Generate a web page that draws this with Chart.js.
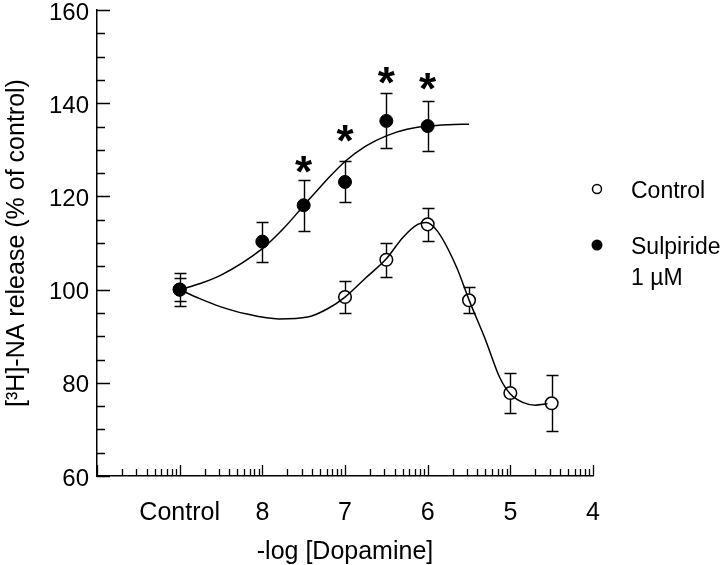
<!DOCTYPE html>
<html>
<head>
<meta charset="utf-8">
<script src="https://cdn.jsdelivr.net/npm/chart.js@4.4.1/dist/chart.umd.min.js"></script>
<style>
html, body { margin: 0; padding: 0; background: #fff; }
</style>
</head>
<body>
<canvas id="chart" width="720" height="565"></canvas>
<script>
var FONT = "'Liberation Sans', Arial, Helvetica, sans-serif";

// x is -log [Dopamine]; the control column sits at 9
var xTickValues = [9, 8, 7, 6, 5, 4];
var xTickLabels = ['Control', '8', '7', '6', '5', '4'];

var controlX = [9, 7, 6.5, 6, 5.5, 5, 4.5];
var controlY = [100, 98.4, 106.4, 114.0, 97.7, 77.8, 75.6];
var controlSem = [2.4, 3.5, 3.7, 3.6, 2.8, 4.2, 6.0];

var sulpX = [9, 8, 7.5, 7, 6.5, 6];
var sulpY = [100, 110.3, 118.1, 123.1, 136.2, 135.1];
var sulpSem = [3.5, 4.3, 5.5, 4.4, 5.9, 5.4];

// significance stars
var starX = [7.5, 7, 6.5, 6];
var starY = [127.2, 133.8, 146.3, 145.0];

// fitted curves
var fitSulpX = [9, 8.75, 8.5, 8.0, 7.75, 7.5, 7.25, 7.0, 6.75, 6.5, 6.25, 6.0, 5.75, 5.5];
var fitSulpY = [100, 101.3, 103.1, 108.8, 113.0, 118.0, 123.0, 127.5, 130.8, 133.0, 134.4, 135.1, 135.4, 135.5];

var fitCtrlX = [9, 8.75, 8.5, 8.2, 7.8, 7.45, 7.2, 7.0, 6.75, 6.5, 6.3, 6.12, 6.02, 5.88, 5.65, 5.5, 5.3, 5.13, 5.0, 4.85, 4.7, 4.55];
var fitCtrlY = [100, 98.0, 96.3, 94.8, 93.7, 94.1, 96.0, 98.4, 102.5, 106.6, 111.2, 114.0, 114.4, 112.5, 104.8, 97.8, 89.2, 81.2, 77.6, 75.8, 75.2, 75.5];

function pts(xa, ya) {
    return xa.map(function (x, i) { return { x: x, y: ya[i] }; });
}

// ticks drawn inward, log minor ticks on x
var axisTicks = {
    id: 'axisTicks',
    afterDraw: function (chart) {
        var ctx = chart.ctx, xs = chart.scales.x, ys = chart.scales.y, a = chart.chartArea;
        ctx.save();
        ctx.strokeStyle = '#000';
        ctx.lineWidth = 1.3;
        ctx.beginPath();
        for (var v = 60; v <= 160; v += 5) {
            var py = Math.round(ys.getPixelForValue(v)) + 0.5;
            var len = v % 20 === 0 ? 13 : 8;
            ctx.moveTo(a.left, py);
            ctx.lineTo(a.left + len, py);
        }
        for (var d = 10; d >= 4; d--) {
            for (var k = 1; k <= 9; k++) {
                var val = d - Math.log10(k);
                if (val < 4) break;
                var px = Math.round(xs.getPixelForValue(val)) + 0.5;
                var h = k === 1 ? 11 : 7;
                ctx.moveTo(px, a.bottom);
                ctx.lineTo(px, a.bottom - h);
            }
        }
        ctx.stroke();
        ctx.restore();
    }
};

function drawErr(ctx, xs, ys, xa, ya, sem, r) {
    for (var i = 0; i < xa.length; i++) {
        var px = Math.round(xs.getPixelForValue(xa[i])) + 0.5;
        var py = ys.getPixelForValue(ya[i]);
        var top = Math.round(ys.getPixelForValue(ya[i] + sem[i])) + 0.5;
        var bot = Math.round(ys.getPixelForValue(ya[i] - sem[i])) + 0.5;
        if (top < py - r) {
            ctx.moveTo(px, py - r); ctx.lineTo(px, top);
        }
        ctx.moveTo(px - 6, top); ctx.lineTo(px + 6, top);
        if (bot > py + r) {
            ctx.moveTo(px, py + r); ctx.lineTo(px, bot);
        }
        ctx.moveTo(px - 6, bot); ctx.lineTo(px + 6, bot);
    }
}

var extras = {
    id: 'extras',
    afterDatasetsDraw: function (chart) {
        var ctx = chart.ctx, xs = chart.scales.x, ys = chart.scales.y;
        ctx.save();
        ctx.strokeStyle = '#000';
        ctx.lineWidth = 1.4;
        ctx.beginPath();
        drawErr(ctx, xs, ys, controlX, controlY, controlSem, 6.5);
        drawErr(ctx, xs, ys, sulpX, sulpY, sulpSem, 6.5);
        ctx.stroke();

        ctx.fillStyle = '#000';
        ctx.font = 'bold 44px ' + FONT;
        ctx.textAlign = 'center';
        ctx.textBaseline = 'alphabetic';
        for (var i = 0; i < starX.length; i++) {
            ctx.fillText('*', xs.getPixelForValue(starX[i]), ys.getPixelForValue(starY[i]) + 24);
        }
        ctx.restore();
    },
    afterDraw: function (chart) {
        var ctx = chart.ctx, a = chart.chartArea;
        var lx = a.right + 4, tx = a.right + 38;
        ctx.save();
        ctx.strokeStyle = '#000';
        ctx.fillStyle = '#000';
        ctx.lineWidth = 1.5;
        ctx.beginPath();
        ctx.arc(lx, 189, 4.5, 0, Math.PI * 2);
        ctx.stroke();
        ctx.beginPath();
        ctx.arc(lx, 245, 5.5, 0, Math.PI * 2);
        ctx.fill();
        ctx.font = '23px ' + FONT;
        ctx.textAlign = 'left';
        ctx.textBaseline = 'middle';
        ctx.fillText('Control', tx, 192);
        ctx.fillText('Sulpiride', tx, 248);
        ctx.fillText('1 \u00b5M', tx, 279);
        ctx.restore();
    }
};

var ctx = document.getElementById('chart').getContext('2d');
var chart = new Chart(ctx, {
    type: 'scatter',
    data: {
        datasets: [{
            label: 'Sulpiride 1 \u00b5M',
            data: pts(sulpX, sulpY),
            showLine: false,
            pointRadius: 6.5,
            pointBackgroundColor: '#000',
            pointBorderColor: '#000',
            pointBorderWidth: 1
        }, {
            label: 'Control',
            data: pts(controlX, controlY),
            showLine: false,
            pointRadius: 6.3,
            pointBackgroundColor: 'rgba(0,0,0,0)',
            pointBorderColor: '#000',
            pointBorderWidth: 1.5
        }, {
            label: 'fit sulpiride',
            data: pts(fitSulpX, fitSulpY),
            showLine: true,
            pointRadius: 0,
            borderColor: '#000',
            borderWidth: 1.5,
            cubicInterpolationMode: 'monotone'
        }, {
            label: 'fit control',
            data: pts(fitCtrlX, fitCtrlY),
            showLine: true,
            pointRadius: 0,
            borderColor: '#000',
            borderWidth: 1.5,
            cubicInterpolationMode: 'monotone'
        }]
    },
    options: {
        responsive: false,
        animation: false,
        layout: { padding: { top: 10, right: 127, bottom: 0, left: 0 } },
        plugins: {
            legend: { display: false },
            tooltip: { enabled: false }
        },
        scales: {
            x: {
                type: 'linear',
                min: 4,
                max: 10,
                reverse: true,
                afterBuildTicks: function (s) {
                    s.ticks = xTickValues.map(function (v) { return { value: v }; });
                },
                afterFit: function (s) {
                    s.height = 89;
                    s.paddingLeft = 0;
                    s.paddingRight = 0;
                },
                grid: { display: false, drawTicks: false },
                border: { display: true, color: '#000', width: 1.5 },
                ticks: {
                    autoSkip: false,
                    maxRotation: 0,
                    padding: 22,
                    color: '#000',
                    font: { family: FONT, size: 25 },
                    callback: function (v, i) { return xTickLabels[i]; }
                },
                title: {
                    display: true,
                    text: '-log [Dopamine]',
                    color: '#000',
                    font: { family: FONT, size: 25, lineHeight: 1 },
                    padding: 0
                }
            },
            y: {
                min: 60,
                max: 160,
                afterFit: function (s) {
                    s.width = 97;
                    s.paddingTop = 0;
                    s.paddingBottom = 0;
                },
                grid: { display: false, drawTicks: false },
                border: { display: true, color: '#000', width: 1.5 },
                ticks: {
                    stepSize: 20,
                    padding: 8,
                    labelOffset: 3,
                    color: '#000',
                    font: { family: FONT, size: 24 }
                },
                title: {
                    display: true,
                    text: '[\u00b3H]-NA release (% of control)',
                    color: '#000',
                    font: { family: FONT, size: 25 },
                    padding: { top: 2, bottom: 0 }
                }
            }
        }
    },
    plugins: [axisTicks, extras]
});
</script>
</body>
</html>
